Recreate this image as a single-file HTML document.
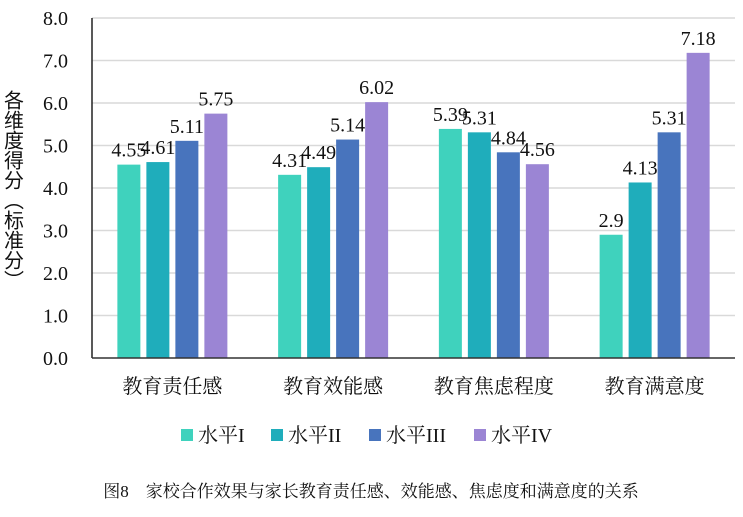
<!DOCTYPE html>
<html><head><meta charset="utf-8"><style>
body{margin:0;background:#fff;}
svg text{font-family:"Liberation Serif","Noto Serif CJK SC",serif;fill:#111;}
</style></head><body>
<svg width="743" height="512" xmlns="http://www.w3.org/2000/svg">
<g id="grid"></g><g id="bars"></g><g id="labels"></g>
<line x1="92" y1="18" x2="92" y2="358" stroke="#222" stroke-width="1.5"/>
<line x1="92" y1="358" x2="735" y2="358" stroke="#333" stroke-width="1.5"/>
<text x="14" y="90" font-size="20" style="writing-mode:vertical-rl;font-family:'Noto Sans CJK SC',sans-serif" transform="translate(0,0)">各维度得分（标准分）</text>
<g id="legend"></g>
<text x="371" y="497" font-size="17" text-anchor="middle">图8　家校合作效果与家长教育责任感、效能感、焦虑度和满意度的关系</text>
</svg>
<script>
const categories=["教育责任感","教育效能感","教育焦虑程度","教育满意度"];
const seriesNames=["水平I","水平II","水平III","水平IV"];
const level1=[4.55,4.31,5.39,2.9];
const level2=[4.61,4.49,5.31,4.13];
const level3=[5.11,5.14,4.84,5.31];
const level4=[5.75,6.02,4.56,7.18];
const yTicks=[0,1,2,3,4,5,6,7,8];
const colors=["#3fd2bd","#1fadbb","#4874bd","#9b85d4"];
const series=[level1,level2,level3,level4];
const NS="http://www.w3.org/2000/svg";
const x0=92,x1=735,y0=358,yTop=18,yMax=8;
const y=v=>y0-(v/yMax)*(y0-yTop);
const gw=(x1-x0)/categories.length;
const bw=23,step=29;
const bx=(c,s)=>x0+gw*c+gw/2-1.5*step-bw/2+s*step;
function mk(tag,attrs,parent,txt){const e=document.createElementNS(NS,tag);for(const k in attrs)e.setAttribute(k,attrs[k]);if(txt!==undefined)e.textContent=txt;document.getElementById(parent).appendChild(e);return e;}
yTicks.forEach(t=>{
  if(t>0){const l=mk('line',{x1:x0,x2:x1,y1:y(t),y2:y(t),stroke:'#d9d9d9','stroke-width':1.5},'grid');
  
  }
  const tx=mk('text',{x:68,y:y(t)+7,'font-size':20,'text-anchor':'end'},'grid',t.toFixed(1));
  
  
});
categories.forEach((c,i)=>{
  const t=mk('text',{x:x0+gw*i+gw/2,y:393,'font-size':20,'text-anchor':'middle'},'labels',c);
  
  
  series.forEach((s,j)=>{
    const r=mk('rect',{x:bx(i,j),y:y(s[i]),width:bw,height:y0-y(s[i]),fill:colors[j]},'bars');
    
    
    const v=mk('text',{x:bx(i,j)+bw/2,y:y(s[i])-8,'font-size':20,'text-anchor':'middle'},'labels',String(s[i]));
    
    
  });
});
const lx=[181,271,369,474];
seriesNames.forEach((n,j)=>{
  const r=mk('rect',{x:lx[j],y:429,width:12,height:12,fill:colors[j]},'legend');
  
  
  const t=mk('text',{x:lx[j]+17,y:442,'font-size':20},'legend',n);
  
  
});
</script>
</body></html>
